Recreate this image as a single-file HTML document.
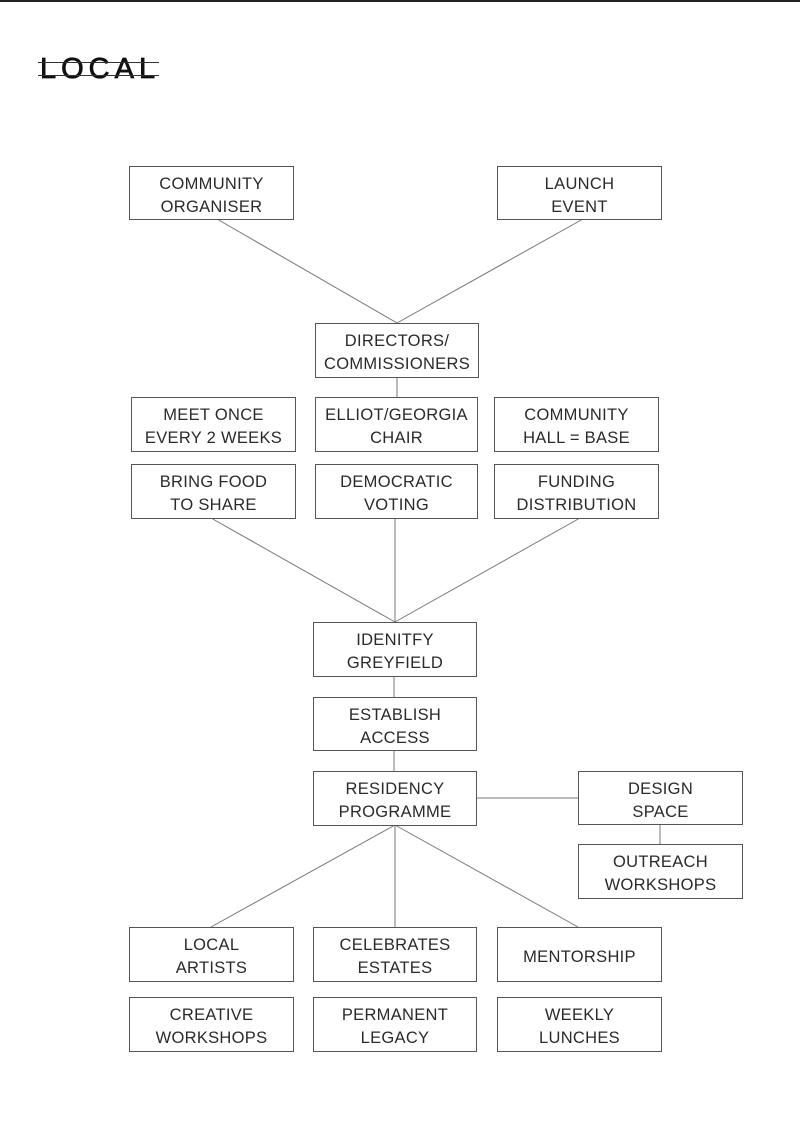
<!DOCTYPE html>
<html><head><meta charset="utf-8"><style>
body{margin:0;width:800px;height:1132px;background:#fff;position:relative;overflow:hidden;font-family:"Liberation Sans",sans-serif;}
.b{position:absolute;box-sizing:border-box;border:1px solid #555;display:flex;align-items:center;justify-content:center;text-align:center;font-size:16.5px;line-height:23px;letter-spacing:0.3px;color:#2a2a2a;background:#fff;padding-top:5px;}
svg{position:absolute;left:0;top:0}
</style></head><body>
<div style="position:absolute;left:0;top:0;width:800px;height:2px;background:#222"></div>
<div style="position:absolute;left:40px;top:54px;font-size:29px;letter-spacing:5px;color:#111;line-height:30px;-webkit-text-stroke:0.8px #111">LOCAL</div>
<div style="position:absolute;left:38px;top:62px;width:121px;height:1px;background:#333"></div>
<div style="position:absolute;left:38px;top:75px;width:121px;height:1px;background:#333"></div>
<svg width="800" height="1132"><g stroke="#777" stroke-width="1" fill="none">
<line x1="217" y1="219" x2="397" y2="323"/><line x1="583" y1="219" x2="397" y2="323"/>
<line x1="397" y1="377" x2="397" y2="397"/>
<line x1="211" y1="518" x2="395" y2="622"/><line x1="395" y1="518" x2="395" y2="622"/><line x1="580" y1="518" x2="395" y2="622"/>
<line x1="394" y1="676" x2="394" y2="697"/><line x1="394" y1="750" x2="394" y2="771"/>
<line x1="476" y1="798" x2="578" y2="798"/><line x1="660" y1="824" x2="660" y2="844"/>
<line x1="395" y1="825" x2="211" y2="927"/><line x1="395" y1="825" x2="395" y2="927"/><line x1="395" y1="825" x2="578" y2="927"/>
</g></svg>
<div class="b" style="left:129px;top:166px;width:165px;height:54px">COMMUNITY<br>ORGANISER</div>
<div class="b" style="left:497px;top:166px;width:165px;height:54px">LAUNCH<br>EVENT</div>
<div class="b" style="left:315px;top:323px;width:164px;height:55px">DIRECTORS/<br>COMMISSIONERS</div>
<div class="b" style="left:131px;top:397px;width:165px;height:55px">MEET ONCE<br>EVERY 2 WEEKS</div>
<div class="b" style="left:315px;top:397px;width:163px;height:55px">ELLIOT/GEORGIA<br>CHAIR</div>
<div class="b" style="left:494px;top:397px;width:165px;height:55px">COMMUNITY<br>HALL = BASE</div>
<div class="b" style="left:131px;top:464px;width:165px;height:55px">BRING FOOD<br>TO SHARE</div>
<div class="b" style="left:315px;top:464px;width:163px;height:55px">DEMOCRATIC<br>VOTING</div>
<div class="b" style="left:494px;top:464px;width:165px;height:55px">FUNDING<br>DISTRIBUTION</div>
<div class="b" style="left:313px;top:622px;width:164px;height:55px">IDENITFY<br>GREYFIELD</div>
<div class="b" style="left:313px;top:697px;width:164px;height:54px">ESTABLISH<br>ACCESS</div>
<div class="b" style="left:313px;top:771px;width:164px;height:55px">RESIDENCY<br>PROGRAMME</div>
<div class="b" style="left:578px;top:771px;width:165px;height:54px">DESIGN<br>SPACE</div>
<div class="b" style="left:578px;top:844px;width:165px;height:55px">OUTREACH<br>WORKSHOPS</div>
<div class="b" style="left:129px;top:927px;width:165px;height:55px">LOCAL<br>ARTISTS</div>
<div class="b" style="left:313px;top:927px;width:164px;height:55px">CELEBRATES<br>ESTATES</div>
<div class="b" style="left:497px;top:927px;width:165px;height:55px">MENTORSHIP</div>
<div class="b" style="left:129px;top:997px;width:165px;height:55px">CREATIVE<br>WORKSHOPS</div>
<div class="b" style="left:313px;top:997px;width:164px;height:55px">PERMANENT<br>LEGACY</div>
<div class="b" style="left:497px;top:997px;width:165px;height:55px">WEEKLY<br>LUNCHES</div>
</body></html>
